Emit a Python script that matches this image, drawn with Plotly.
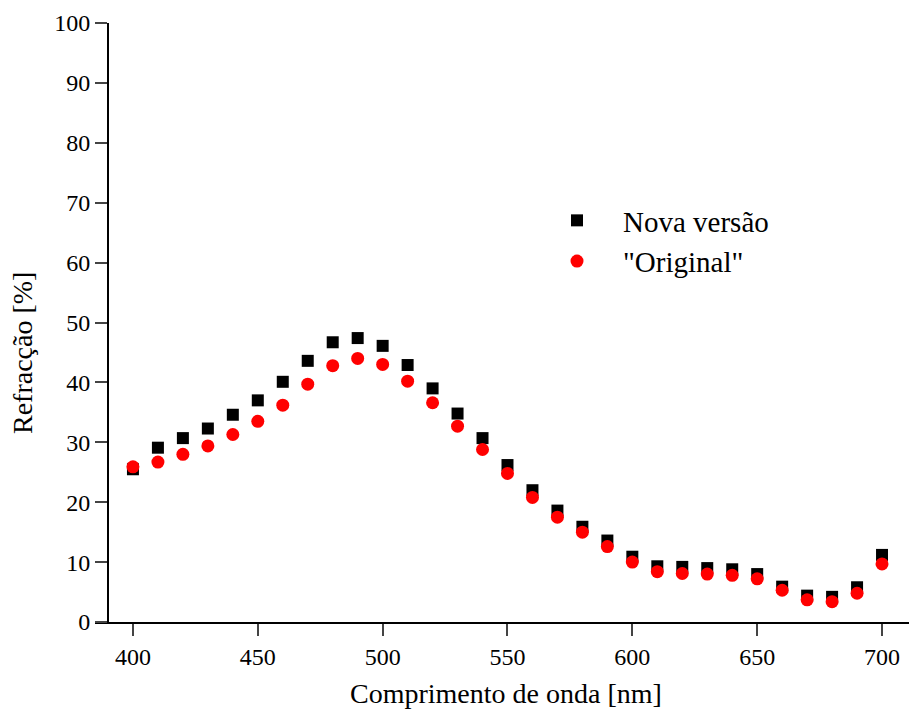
import plotly.graph_objects as go

wavelength = [400, 410, 420, 430, 440, 450, 460, 470, 480, 490, 500, 510, 520, 530, 540,
              550, 560, 570, 580, 590, 600, 610, 620, 630, 640, 650, 660, 670, 680, 690, 700]
nova = [25.5, 29.1, 30.7, 32.3, 34.6, 37.0, 40.1, 43.6, 46.7, 47.4, 46.1, 42.9, 39.0, 34.8, 30.7,
        26.2, 22.0, 18.6, 15.9, 13.6, 10.9, 9.3, 9.2, 9.0, 8.8, 8.0, 5.9, 4.4, 4.2, 5.8, 11.2]
original = [25.9, 26.7, 28.0, 29.4, 31.3, 33.5, 36.2, 39.7, 42.8, 44.0, 43.0, 40.2, 36.6, 32.7, 28.8,
            24.8, 20.8, 17.5, 15.0, 12.6, 10.0, 8.4, 8.1, 8.0, 7.8, 7.2, 5.3, 3.7, 3.4, 4.8, 9.7]
names = ["Nova versão", '"Original"']
x_ticks = [400, 450, 500, 550, 600, 650, 700]
y_ticks = [0, 10, 20, 30, 40, 50, 60, 70, 80, 90, 100]

FONT = "Liberation Serif"

fig = go.Figure()
fig.add_trace(go.Scatter(x=wavelength, y=nova, mode="markers", name=names[0],
                         marker=dict(symbol="square", size=12, color="black")))
fig.add_trace(go.Scatter(x=wavelength, y=original, mode="markers", name=names[1],
                         marker=dict(symbol="circle", size=13, color="red")))

W, H = 909, 710
ml, mr, mt, mb = 95, 0, 23, 88
pw = W - ml - mr
ph = H - mt - mb

fig.update_layout(
    width=W, height=H,
    margin=dict(l=ml, r=mr, t=mt, b=mb),
    paper_bgcolor="white", plot_bgcolor="white",
    font=dict(family=FONT, color="black", size=24),
    showlegend=True,
    legend=dict(x=(531 - ml) / pw, y=1 - (195 - mt) / ph, xanchor="left", yanchor="top",
                bgcolor="rgba(0,0,0,0)", font=dict(size=29, family=FONT), itemwidth=82,
                tracegroupgap=0),
    xaxis=dict(range=[384.8, 710.8], tickvals=x_ticks, ticks="outside", ticklen=12, tickwidth=2,
               showline=True, linewidth=2, linecolor="black", showgrid=False, zeroline=False,
               tickfont=dict(size=24, family=FONT), mirror=False),
    yaxis=dict(range=[0, 100], tickvals=y_ticks, ticks="outside", ticklen=12, tickwidth=2,
               showline=True, linewidth=2, linecolor="black", showgrid=False, zeroline=False,
               tickfont=dict(size=24, family=FONT), anchor="free", position=13 / pw),
    annotations=[
        dict(text="Comprimento de onda [nm]", xref="paper", yref="paper",
             x=(506 - ml) / pw, y=-(693 - 622) / ph, xanchor="center", yanchor="middle",
             showarrow=False, font=dict(size=28, family=FONT)),
        dict(text="Refracção [%]", xref="paper", yref="paper", textangle=-90,
             x=-(ml - 22) / pw, y=1 - (353 - mt) / ph, xanchor="center", yanchor="middle",
             showarrow=False, font=dict(size=28, family=FONT)),
    ],
)

fig.write_html("out.html")
